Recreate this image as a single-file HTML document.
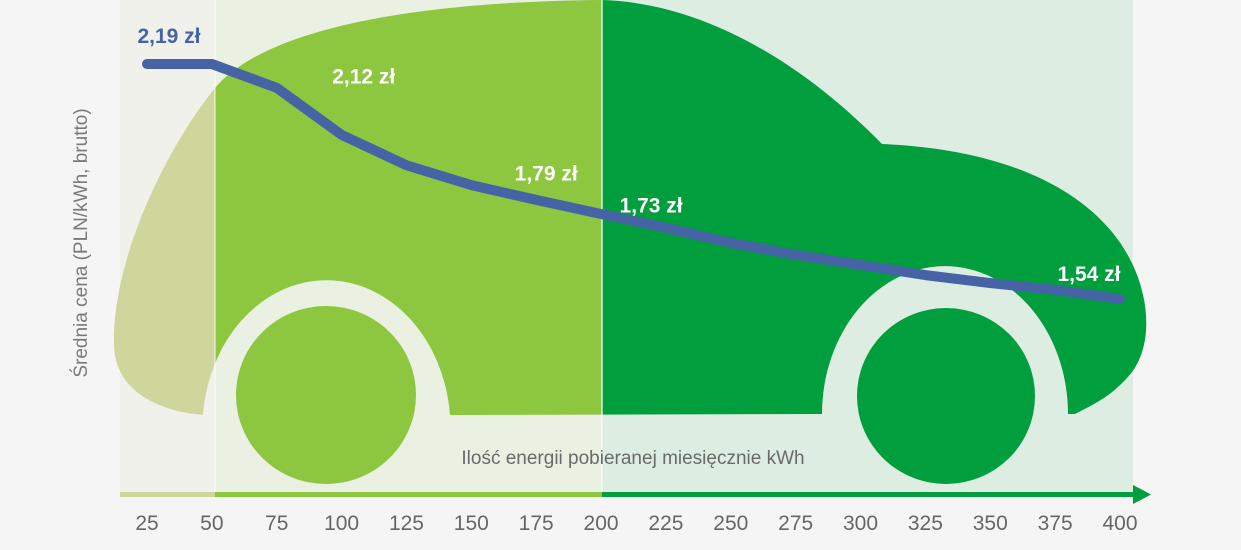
<!DOCTYPE html>
<html><head><meta charset="utf-8">
<style>
html,body{margin:0;padding:0;background:#f5f5f5;}
svg{display:block;font-family:"Liberation Sans",sans-serif;}
</style></head>
<body>
<svg id="chart" width="1241" height="550" viewBox="0 0 1241 550" xmlns="http://www.w3.org/2000/svg">
<defs>
  <clipPath id="c1"><rect x="0" y="0" width="215" height="494"/></clipPath>
  <clipPath id="c2"><rect x="215" y="0" width="387" height="494"/></clipPath>
  <clipPath id="c3"><rect x="602" y="0" width="600" height="494"/></clipPath>
  <path id="body" d="M 205 415 C 160 412, 115 392, 114 345 C 112 260, 165 150, 215 88 C 262 32, 400 2, 600 0 C 700 2, 800 60, 882 144 C 980 148, 1065 175, 1112 232 C 1150 278, 1156 340, 1132 372 C 1112 397, 1092 405, 1075 414 L 1068 414 A 123 148 0 0 0 822 414 L 450 415 A 124 148 0 0 0 203 415 Z"/>
</defs>
<rect x="120" y="0" width="95" height="494" fill="#eff1ea"/>
<rect x="215" y="0" width="387" height="494" fill="#eaf0e2"/>
<rect x="602" y="0" width="531" height="494" fill="#ddede2"/>
<g>
  <use href="#body" clip-path="url(#c1)" fill="#cfd69c"/>
  <use href="#body" clip-path="url(#c2)" fill="#8dc63f"/>
  <use href="#body" clip-path="url(#c3)" fill="#009e3d"/>
  <ellipse cx="326" cy="395" rx="90" ry="89" fill="#8dc63f"/>
  <ellipse cx="946" cy="396" rx="89" ry="88" fill="#009e3d"/>
</g>
<line x1="215" y1="0" x2="215" y2="494" stroke="#ffffff" stroke-opacity="0.6" stroke-width="1.5"/>
<line x1="602" y1="0" x2="602" y2="494" stroke="#ffffff" stroke-opacity="0.8" stroke-width="1.5"/>
<g>
  <rect x="120" y="492" width="95" height="5" fill="#cfd69c"/>
  <rect x="215" y="492" width="387" height="5" fill="#8dc63f"/>
  <rect x="602" y="492" width="531" height="5" fill="#009e3d"/>
  <polygon points="1133,485 1151,494.5 1133,504" fill="#009e3d"/>
</g>
<text x="633" y="464" text-anchor="middle" font-size="19" fill="#6a6a6a">Ilość energii pobieranej miesięcznie kWh</text>
<text transform="translate(87,243) rotate(-90)" text-anchor="middle" font-size="19" fill="#7a7a7a">Średnia cena (PLN/kWh, brutto)</text>
<g id="ticks"></g>
<g id="series"></g>
<g id="labels"></g>
</svg>
<script>
const categories = [25,50,75,100,125,150,175,200,225,250,275,300,325,350,375,400];
const prices = [2.19,2.19,2.124,1.994,1.91,1.855,1.814,1.775,1.737,1.695,1.662,1.634,1.606,1.584,1.565,1.54];
const labelTexts = ["2,19 zł","2,12 zł","1,79 zł","1,73 zł","1,54 zł"];
const labelCats = [25,75,175,200,400];
const labelValues = [2.19,2.12,1.79,1.73,1.54];
const labelColors = ["#4563a5","#ffffff","#ffffff","#ffffff","#ffffff"];

const NS = "http://www.w3.org/2000/svg";
function xScale(c){ return 147 + (c - 25) * (1120 - 147) / 375; }
function yScale(v){ return 64 + (2.19 - v) * 361.5; }

const ticks = document.getElementById('ticks');
categories.forEach(c => {
  const t = document.createElementNS(NS,'text');
  
  
  t.setAttribute('x', xScale(c));
  t.setAttribute('y', 530);
  t.setAttribute('text-anchor','middle');
  t.setAttribute('font-size','21');
  t.setAttribute('fill','#666');
  t.textContent = c;
  ticks.appendChild(t);
});

const series = document.getElementById('series');
const line = document.createElementNS(NS,'polyline');


line.setAttribute('points', categories.map((c,i)=>xScale(c)+','+yScale(prices[i])).join(' '));
line.setAttribute('fill','none');
line.setAttribute('stroke','#4563a5');
line.setAttribute('stroke-width','10');
line.setAttribute('stroke-linecap','round');
line.setAttribute('stroke-linejoin','round');
series.appendChild(line);

const labelOffsets = [[22,-21],[87,-6],[10,-28],[50,-18],[-31,-18]];
const labels = document.getElementById('labels');
labelTexts.forEach((txt,i) => {
  const t = document.createElementNS(NS,'text');
  
  
  t.setAttribute('x', xScale(labelCats[i]) + labelOffsets[i][0]);
  t.setAttribute('y', yScale(labelValues[i]) + labelOffsets[i][1]);
  t.setAttribute('text-anchor','middle');
  t.setAttribute('font-size','21');
  t.setAttribute('font-weight','bold');
  t.setAttribute('fill', labelColors[i]);
  t.textContent = txt;
  labels.appendChild(t);
});
</script>
</body></html>
